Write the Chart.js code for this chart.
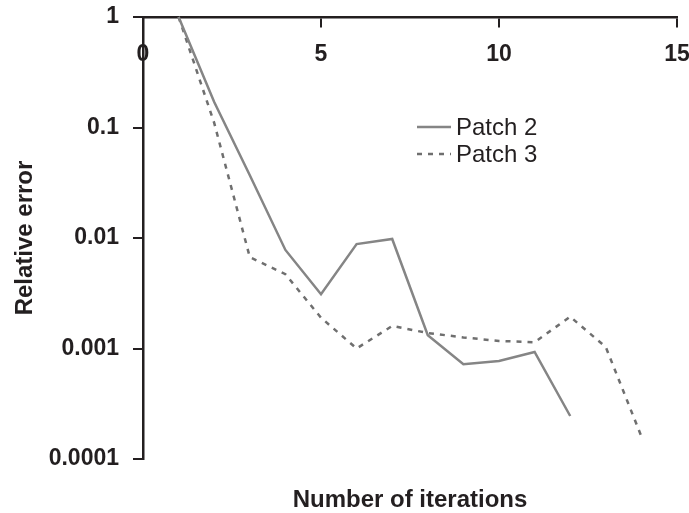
<!DOCTYPE html>
<html>
<head>
<meta charset="utf-8">
<script src="https://cdn.jsdelivr.net/npm/chart.js@4.4.1/dist/chart.umd.min.js"></script>
<style>
  html, body { margin: 0; padding: 0; background: #fff; }
  #wrap { width: 689px; height: 513px; }
</style>
</head>
<body>
<div id="wrap"><canvas id="chart"></canvas></div>
<script>
// --- data ---
const iterPatch2 = [1, 2, 3, 4, 5, 6, 7, 8, 9, 10, 11, 12];
const errPatch2 = [1, 0.17, 0.037, 0.0078, 0.0031, 0.0088, 0.0098, 0.00132, 0.00072, 0.00077, 0.00093, 0.000245];
const iterPatch3 = [1, 2, 3, 4, 5, 6, 7, 8, 9, 10, 11, 12, 13, 14];
const errPatch3 = [1, 0.11, 0.0067, 0.0047, 0.0019, 0.001, 0.0016, 0.00138, 0.00126, 0.00117, 0.00114, 0.00194, 0.00103, 0.00016];
const yTicks = [0.0001, 0.001, 0.01, 0.1, 1];
const yTickLabels = ["0.0001", "0.001", "0.01", "0.1", "1"];

const ink = "#231f20";
const toPoints = (xs, ys) => xs.map((x, i) => ({ x, y: ys[i] }));

// legend drawn inside the plot, like the original
const insideLegend = {
  id: "insideLegend",
  afterDatasetsDraw(chart, args, opts) {
    const ctx = chart.ctx;
    chart.data.datasets.forEach((ds, i) => {
      const y = opts.y + i * opts.gap;
      ctx.save();
      ctx.strokeStyle = ds.borderColor;
      ctx.lineWidth = ds.borderWidth;
      ctx.setLineDash(ds.borderDash || []);
      ctx.beginPath();
      ctx.moveTo(opts.x, y);
      ctx.lineTo(opts.x + opts.len, y);
      ctx.stroke();
      ctx.setLineDash([]);
      ctx.fillStyle = ink;
      ctx.font = opts.font;
      ctx.textBaseline = "middle";
      ctx.fillText(ds.label, opts.x + opts.len + 5, y + 1);
      ctx.restore();
    });
  },
};

const family = "'Liberation Sans', Arial, sans-serif";
const tickFont = { family, size: 23, weight: "bold" };
const titleFont = { family, size: 24, weight: "bold", lineHeight: 1 };

new Chart(document.getElementById("chart"), {
  type: "line",
  data: {
    datasets: [
      {
        label: "Patch 2",
        data: toPoints(iterPatch2, errPatch2),
        borderColor: "#858585",
        borderWidth: 2.5,
        pointRadius: 0,
        tension: 0,
      },
      {
        label: "Patch 3",
        data: toPoints(iterPatch3, errPatch3),
        borderColor: "#6f6f6f",
        borderWidth: 2.5,
        borderDash: [5, 6],
        pointRadius: 0,
        tension: 0,
      },
    ],
  },
  options: {
    responsive: true,
    maintainAspectRatio: false,
    animation: false,
    clip: false,
    layout: { padding: { top: 17, right: 12, left: 0, bottom: 0 } },
    plugins: {
      legend: { display: false },
      tooltip: { enabled: false },
      title: {
        display: true,
        text: "Number of iterations",
        position: "bottom",
        fullSize: false,
        color: ink,
        font: titleFont,
        padding: { top: 29, bottom: 1 },
      },
      insideLegend: {
        x: 417,
        y: 127,
        gap: 27,
        len: 34,
        font: "24px 'Liberation Sans', Arial, sans-serif",
      },
    },
    scales: {
      x: {
        type: "linear",
        position: { y: 1 },
        min: 0,
        max: 15,
        afterFit: (scale) => {
          // labels hang inside the plot, so don't let them shrink it
          scale.paddingLeft = 0;
          scale.paddingRight = 0;
        },
        ticks: { stepSize: 5, color: ink, font: tickFont, padding: 15 },
        grid: { drawOnChartArea: false, tickLength: 9, color: ink, lineWidth: 2 },
        border: { color: ink, width: 2.5 },
      },
      y: {
        type: "logarithmic",
        position: "left",
        min: 0.0001,
        max: 1,
        afterBuildTicks: (scale) => {
          scale.ticks = yTicks.map((v) => ({ value: v }));
        },
        afterFit: (scale) => {
          scale.width = 143;
          scale.paddingTop = 0;
          scale.paddingBottom = 0;
        },
        ticks: {
          color: ink,
          font: tickFont,
          padding: 14,
          callback: (v, i) => yTickLabels[i],
        },
        grid: { drawOnChartArea: false, tickLength: 10, color: ink, lineWidth: 2 },
        border: { color: ink, width: 2.5 },
        title: {
          display: true,
          text: "Relative error",
          color: ink,
          font: titleFont,
          padding: { top: 13, bottom: 0 },
        },
      },
    },
  },
  plugins: [insideLegend],
});
</script>
</body>
</html>
